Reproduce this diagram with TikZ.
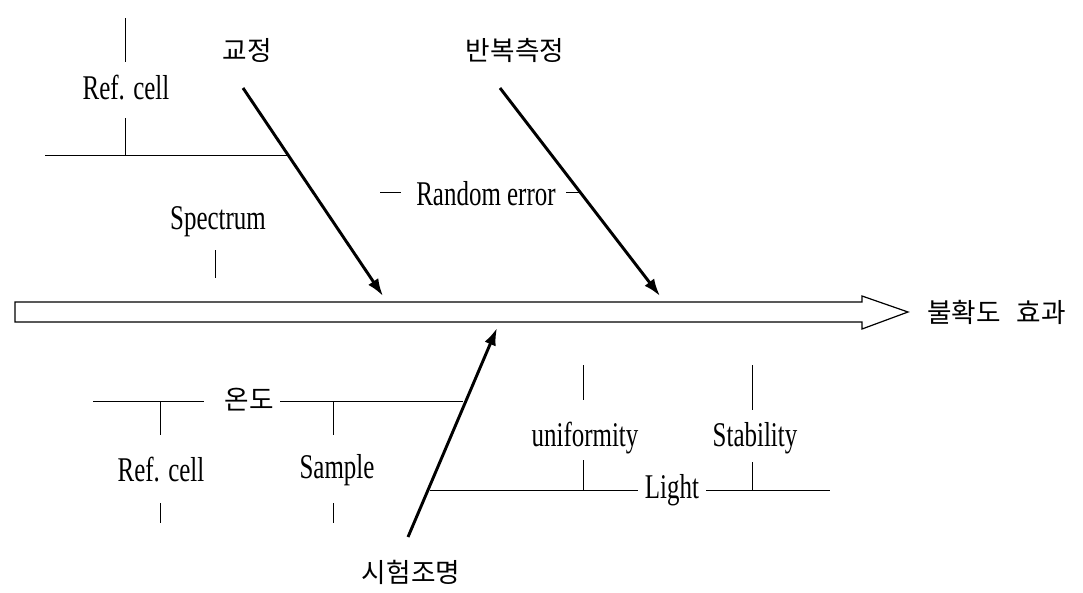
\documentclass[tikz,border=0pt]{standalone}
\usepackage{fontspec}
\setmainfont[FakeStretch=0.72]{Liberation Serif}
\newfontfamily\kfont{Noto Sans CJK KR}
\usetikzlibrary{arrows.meta}
\tikzset{
  cause/.style={line width=2.2pt, -{Latex[length=13pt,width=9pt]}},
  branch/.style={line width=0.6pt},
  latin/.style={inner sep=0pt, font=\fontsize{26}{28}\selectfont},
  hangul/.style={inner sep=0pt, font=\kfont\fontsize{20}{22}\selectfont},
  spine/.style={line width=0.9pt, fill=white}
}

\begin{document}
\begin{tikzpicture}[x=0.75pt, y=-0.75pt]
  \useasboundingbox (0,0) rectangle (1083,593);

  % spine
  \coordinate (tail) at (15,312);
  \coordinate (tip) at (908,312);
  \draw[spine] (15,302) -- (862,302) -- (862,296) -- (tip) -- (862,329) -- (862,322) -- (15,322) -- cycle;
  \node[hangul, anchor=west] (effect) at (927,312) {불확도\hspace{12pt}효과};

  % calibration
  \node[hangul] (calib) at (247,50) {교정};
  \coordinate (calibA) at (243,88);
  \coordinate (calibB) at (383,296);
  \draw[cause] (calibA) -- (calibB);
  \node[latin] (refA) at (126,88) {Ref. cell};
  \draw[branch] (125,18) -- (125,62);
  \draw[branch] (125,118) -- (125,155);
  \draw[branch] (45,155) -- (288,155);
  \node[latin] (spec) at (218,222) {Spectrum};
  \draw[branch] (215,250) -- (215,278);

  % repeated measurement
  \node[hangul] (repeat) at (515,50) {반복측정};
  \coordinate (repA) at (500,88);
  \coordinate (repB) at (660,296);
  \draw[cause] (repA) -- (repB);
  \node[latin] (rand) at (486,194) {Random error};
  \draw[branch] (380,192) -- (401,192);
  \draw[branch] (566,192) -- (580,192);

  % test illumination
  \node[hangul] (illum) at (411,572) {시험조명};
  \coordinate (illA) at (408,537);
  \coordinate (illB) at (497,328);
  \draw[cause] (illA) -- (illB);

  % temperature
  \node[hangul] (temp) at (249,400) {온도};
  \draw[branch] (93,401) -- (204,401);
  \draw[branch] (280,401) -- (463,401);
  \node[latin] (refB) at (161,470) {Ref. cell};
  \draw[branch] (160,401) -- (160,435);
  \draw[branch] (160,503) -- (160,523);
  \node[latin] (sample) at (337,470) {Sample};
  \draw[branch] (333,401) -- (333,435);
  \draw[branch] (333,503) -- (333,523);

  % light
  \node[latin] (light) at (672,490) {Light};
  \draw[branch] (430,490) -- (638,490);
  \draw[branch] (706,490) -- (830,490);
  \node[latin] (unif) at (585,438) {uniformity};
  \draw[branch] (583,365) -- (583,400);
  \draw[branch] (583,460) -- (583,490);
  \node[latin] (stab) at (755,438) {Stability};
  \draw[branch] (752,365) -- (752,410);
  \draw[branch] (752,462) -- (752,490);
\end{tikzpicture}
\end{document}
